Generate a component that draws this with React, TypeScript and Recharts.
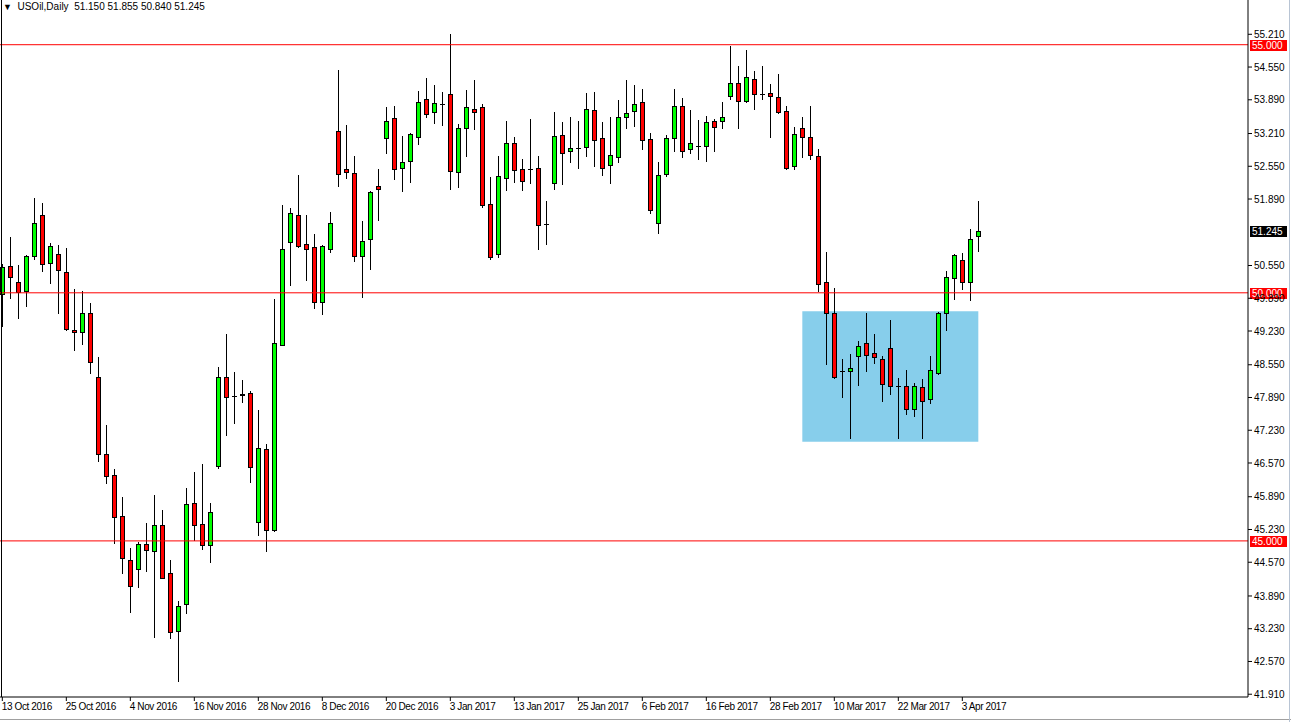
import { ComposedChart, Bar, XAxis, YAxis, ReferenceLine, ReferenceArea } from "recharts";

// daily candles, 13 Oct 2016 .. 5 Apr 2017 (weekdays only)
const OPEN = [
  49.98, 50.55, 50.21, 50.03, 50.74, 51.56, 50.61, 50.78, 50.41, 49.26,
  49.2, 49.59, 48.3, 46.75, 46.32, 45.5, 44.61, 44.43, 44.93, 44.79,
  45.32, 44.35, 43.18, 43.72, 45.76, 45.34, 44.91, 46.5, 48.3, 47.92,
  47.94, 47.98, 45.39, 46.85, 45.21, 48.95, 51.03, 51.56, 50.98, 50.92,
  49.82, 50.89, 53.26, 52.49, 52.41, 50.75, 51.08, 52.15, 53.11, 53.52,
  52.51, 52.65, 53.15, 53.9, 53.64, 53.8, 54.0, 52.43, 53.32, 53.7,
  53.74, 51.78, 50.78, 52.31, 53.01, 52.49, 52.5, 52.51, 51.39, 52.21,
  53.19, 52.85, 52.92, 52.93, 53.68, 53.11, 52.57, 52.73, 53.54, 53.66,
  53.84, 53.09, 51.4, 52.39, 53.11, 53.76, 52.89, 52.96, 52.96, 53.46,
  53.46, 53.96, 54.22, 53.87, 54.3, 54.01, 54.02, 53.94, 53.66, 52.55,
  53.32, 53.15, 52.75, 50.21, 49.59, 48.43, 48.42, 48.72, 48.98, 48.78,
  48.66, 48.88, 48.12, 48.12, 47.65, 48.1, 47.85, 48.38, 49.59, 50.29,
  50.66, 50.21, 51.15,
];
const HIGH = [
  50.58, 51.13, 50.56, 50.76, 51.91, 51.8, 51.0, 50.96, 50.9, 50.07,
  50.04, 49.79, 48.71, 47.34, 46.45, 45.89, 44.86, 44.98, 45.36, 45.93,
  45.62, 44.62, 43.79, 46.07, 46.39, 46.55, 45.76, 48.5, 49.17, 48.4,
  48.24, 48.02, 47.64, 46.95, 49.88, 51.77, 51.7, 52.37, 51.57, 51.19,
  50.96, 51.63, 54.49, 53.38, 52.76, 51.45, 52.05, 52.49, 53.74, 53.76,
  53.16, 53.22, 54.07, 54.33, 54.19, 54.05, 55.22, 53.4, 54.09, 54.29,
  53.8, 52.33, 52.76, 53.46, 53.14, 52.7, 53.5, 52.75, 51.85, 53.64,
  53.44, 53.54, 53.46, 54.03, 54.05, 53.44, 53.54, 53.88, 54.29, 54.19,
  54.11, 53.22, 52.64, 53.18, 54.11, 53.92, 53.68, 53.48, 53.56, 53.5,
  53.85, 54.98, 54.57, 54.89, 54.48, 54.57, 54.21, 54.41, 53.76, 53.35,
  53.54, 53.76, 52.89, 50.82, 50.09, 48.66, 48.77, 49.03, 49.59, 49.17,
  48.72, 49.45, 48.28, 48.44, 48.18, 48.26, 48.73, 49.61, 50.44, 50.78,
  50.8, 51.29, 51.855,
];
const LOW = [
  49.34, 49.89, 49.49, 49.74, 50.68, 50.43, 50.19, 49.6, 49.26, 48.85,
  48.97, 48.39, 46.62, 46.17, 44.95, 44.35, 43.56, 44.08, 44.4, 43.07,
  44.25, 43.04, 42.18, 43.54, 45.02, 44.84, 44.57, 46.46, 47.13, 47.38,
  47.79, 46.19, 45.12, 44.8, 45.2, 48.94, 50.16, 50.92, 50.26, 49.69,
  49.57, 50.83, 52.15, 52.32, 50.65, 49.92, 50.47, 51.47, 52.82, 52.3,
  52.06, 52.24, 53.0, 53.54, 53.43, 53.39, 52.1, 52.13, 52.76, 53.31,
  51.73, 50.69, 50.73, 52.08, 52.24, 52.08, 52.21, 50.89, 50.99, 52.1,
  52.2, 52.64, 52.52, 52.76, 52.56, 52.38, 52.22, 52.63, 53.33, 53.37,
  52.89, 51.6, 51.2, 52.36, 52.86, 52.74, 52.82, 52.7, 52.66, 52.86,
  53.33, 53.91, 53.33, 53.84, 53.71, 53.91, 53.15, 53.62, 52.5, 52.5,
  52.73, 52.69, 50.03, 48.57, 48.29, 47.89, 47.07, 48.15, 48.43, 48.58,
  47.81, 47.97, 47.07, 47.56, 47.52, 47.07, 47.77, 48.36, 49.26, 49.88,
  50.08, 49.86, 50.84,
];
const CLOSE = [
  50.51, 50.31, 50.02, 50.74, 51.4, 50.59, 50.94, 50.45, 49.28, 49.2,
  49.59, 48.61, 46.75, 46.31, 45.48, 44.65, 44.09, 44.93, 44.81, 45.32,
  44.26, 43.16, 43.68, 45.74, 45.32, 44.91, 45.58, 48.3, 47.89, 47.93,
  47.97, 46.48, 46.87, 45.21, 48.98, 50.88, 51.6, 50.95, 50.89, 49.81,
  50.94, 51.4, 52.39, 52.43, 50.74, 51.04, 52.03, 52.09, 53.46, 52.49,
  52.63, 53.2, 53.84, 53.6, 53.82, 53.8, 52.45, 53.33, 53.74, 53.65,
  51.76, 50.73, 52.35, 53.01, 52.47, 52.25, 52.5, 51.36, 51.39, 53.17,
  52.81, 52.91, 52.92, 53.7, 53.07, 52.51, 52.77, 53.54, 53.62, 53.81,
  53.07, 51.66, 52.37, 53.11, 53.76, 52.85, 53.01, 52.96, 53.44, 53.35,
  53.54, 54.22, 53.86, 54.34, 54.0, 54.01, 53.96, 53.64, 52.52, 53.21,
  53.15, 52.77, 50.17, 49.59, 48.31, 48.43, 48.48, 48.92, 48.74, 48.7,
  48.16, 48.12, 48.12, 47.65, 48.12, 47.81, 48.44, 49.59, 50.31, 50.76,
  50.21, 51.08, 51.245,
];

const DATE_LABELS = [
  "13 Oct 2016", "25 Oct 2016", "4 Nov 2016", "16 Nov 2016", "28 Nov 2016",
  "8 Dec 2016", "20 Dec 2016", "3 Jan 2017", "13 Jan 2017", "25 Jan 2017",
  "6 Feb 2017", "16 Feb 2017", "28 Feb 2017", "10 Mar 2017", "22 Mar 2017",
  "3 Apr 2017",
];
const LABEL_STEP = 8;

const PRICE_TICKS = [
  55.21, 54.55, 53.89, 53.21, 52.55, 51.89, 50.55, 49.89, 49.23, 48.55,
  47.89, 47.23, 46.57, 45.89, 45.23, 44.57, 43.89, 43.23, 42.57, 41.91,
];
const LEVELS = [55, 50, 45];
const LAST = { open: 51.15, high: 51.855, low: 50.84, close: 51.245 };
const ZONE = { from: 100, to: 122, low: 47.0, high: 49.63 };

const data = OPEN.map((o, i) => ({
  i,
  o,
  h: HIGH[i],
  l: LOW[i],
  c: CLOSE[i],
  range: [LOW[i], HIGH[i]],
}));
const tickIdx = DATE_LABELS.map((_, k) => k * LABEL_STEP);

const FONT = "'Liberation Sans', Arial, sans-serif";

const Candle = (props: any) => {
  const { x, y, width, height, payload } = props;
  if (!payload) return null;
  const { o, h, l, c } = payload;
  const top = Math.min(y, y + height);
  const bottom = Math.max(y, y + height);
  const ppu = h > l ? (bottom - top) / (h - l) : 0;
  const py = (v: number) => top + (h - v) * ppu;
  const px = Math.round(x + width / 2);
  const bTop = Math.round(py(Math.max(o, c))) + 0.5;
  const bBot = Math.round(py(Math.min(o, c))) + 0.5;
  return (
    <g>
      <line x1={px + 0.5} x2={px + 0.5} y1={Math.round(top)} y2={Math.round(bottom) + 1} stroke="#000" />
      {bBot - bTop < 1 ? (
        <line x1={px - 2} x2={px + 3} y1={bTop} y2={bTop} stroke="#000" />
      ) : (
        <rect
          x={px - 1.5}
          y={bTop}
          width={4}
          height={bBot - bTop}
          fill={c > o ? "#00ff00" : "#ff0000"}
          stroke="#000"
        />
      )}
    </g>
  );
};

const priceBox = (value: number, bg: string) => (props: any) => {
  const vb = props.viewBox;
  const bx = vb.x + vb.width + 2;
  const by = Math.round(vb.y) - 5;
  return (
    <g>
      <rect x={bx} y={by} width={37} height={11} fill={bg} />
      <text x={bx + 2} y={by + 9} fill="#fff" fontSize={10} fontFamily={FONT}>
        {value.toFixed(3)}
      </text>
    </g>
  );
};

const DateTick = (props: any) => {
  const { x, payload } = props;
  const label = DATE_LABELS[Math.round(payload.value / LABEL_STEP)];
  return (
    <text
      x={x - 0.5}
      y={710}
      textAnchor="start"
      fontSize={10}
      letterSpacing={-0.4}
      fill="#000"
      fontFamily={FONT}
    >
      {label}
    </text>
  );
};

export default function App() {
  return (
    <div style={{ position: "absolute", left: 0, top: 0, width: 1291, height: 722, background: "#fff", fontFamily: FONT }}>
      <ComposedChart
        width={1291}
        height={722}
        data={data}
        margin={{ top: 0, right: 0, bottom: 0, left: 0 }}
        style={{ fontFamily: FONT }}
      >
        <XAxis
          dataKey="i"
          type="number"
          domain={[-0.29, 155.71]}
          allowDataOverflow
          ticks={tickIdx}
          interval={0}
          height={25}
          tickSize={4}
          stroke="#000"
          tickLine={{ stroke: "#000" }}
          tick={<DateTick />}
        />
        <YAxis
          orientation="right"
          type="number"
          domain={[41.854, 55.901]}
          allowDataOverflow
          ticks={PRICE_TICKS}
          interval={0}
          width={43}
          tickSize={4}
          tickMargin={2}
          stroke="#000"
          tickLine={{ stroke: "#000" }}
          tick={{ fontSize: 10, fill: "#000", fontFamily: FONT }}
          tickFormatter={(v: number) => v.toFixed(3)}
        />
        <ReferenceArea
          x1={ZONE.from}
          x2={ZONE.to}
          y1={ZONE.low}
          y2={ZONE.high}
          fill="#87ceeb"
          fillOpacity={1}
          stroke="none"
          zIndex={-10}
        />
        <Bar dataKey="range" barSize={5} shape={<Candle />} isAnimationActive={false} />
        {LEVELS.map((v) => (
          <ReferenceLine key={v} y={v} stroke="#ff0000" label={priceBox(v, "#ff0000")} />
        ))}
        <ReferenceLine y={LAST.close} stroke="none" strokeOpacity={0} label={priceBox(LAST.close, "#000")} />
      </ComposedChart>
      <div style={{ position: "absolute", left: 1, top: 0, width: 1, height: 697, background: "#000" }} />
      <div style={{ position: "absolute", left: 0, top: 719, width: 1291, height: 1, background: "#a0a0a0" }} />
      <div style={{ position: "absolute", left: 1289, top: 0, width: 1, height: 722, background: "#b8c4d4" }} />
      <div style={{ position: "absolute", left: 3, top: 1, fontSize: 10, color: "#000", whiteSpace: "pre", lineHeight: "12px" }}>
        <span style={{ fontSize: 9 }}>▼</span>
        {"  USOil,Daily  "}
        {[LAST.open, LAST.high, LAST.low, LAST.close].map((v) => v.toFixed(3)).join(" ")}
      </div>
    </div>
  );
}
